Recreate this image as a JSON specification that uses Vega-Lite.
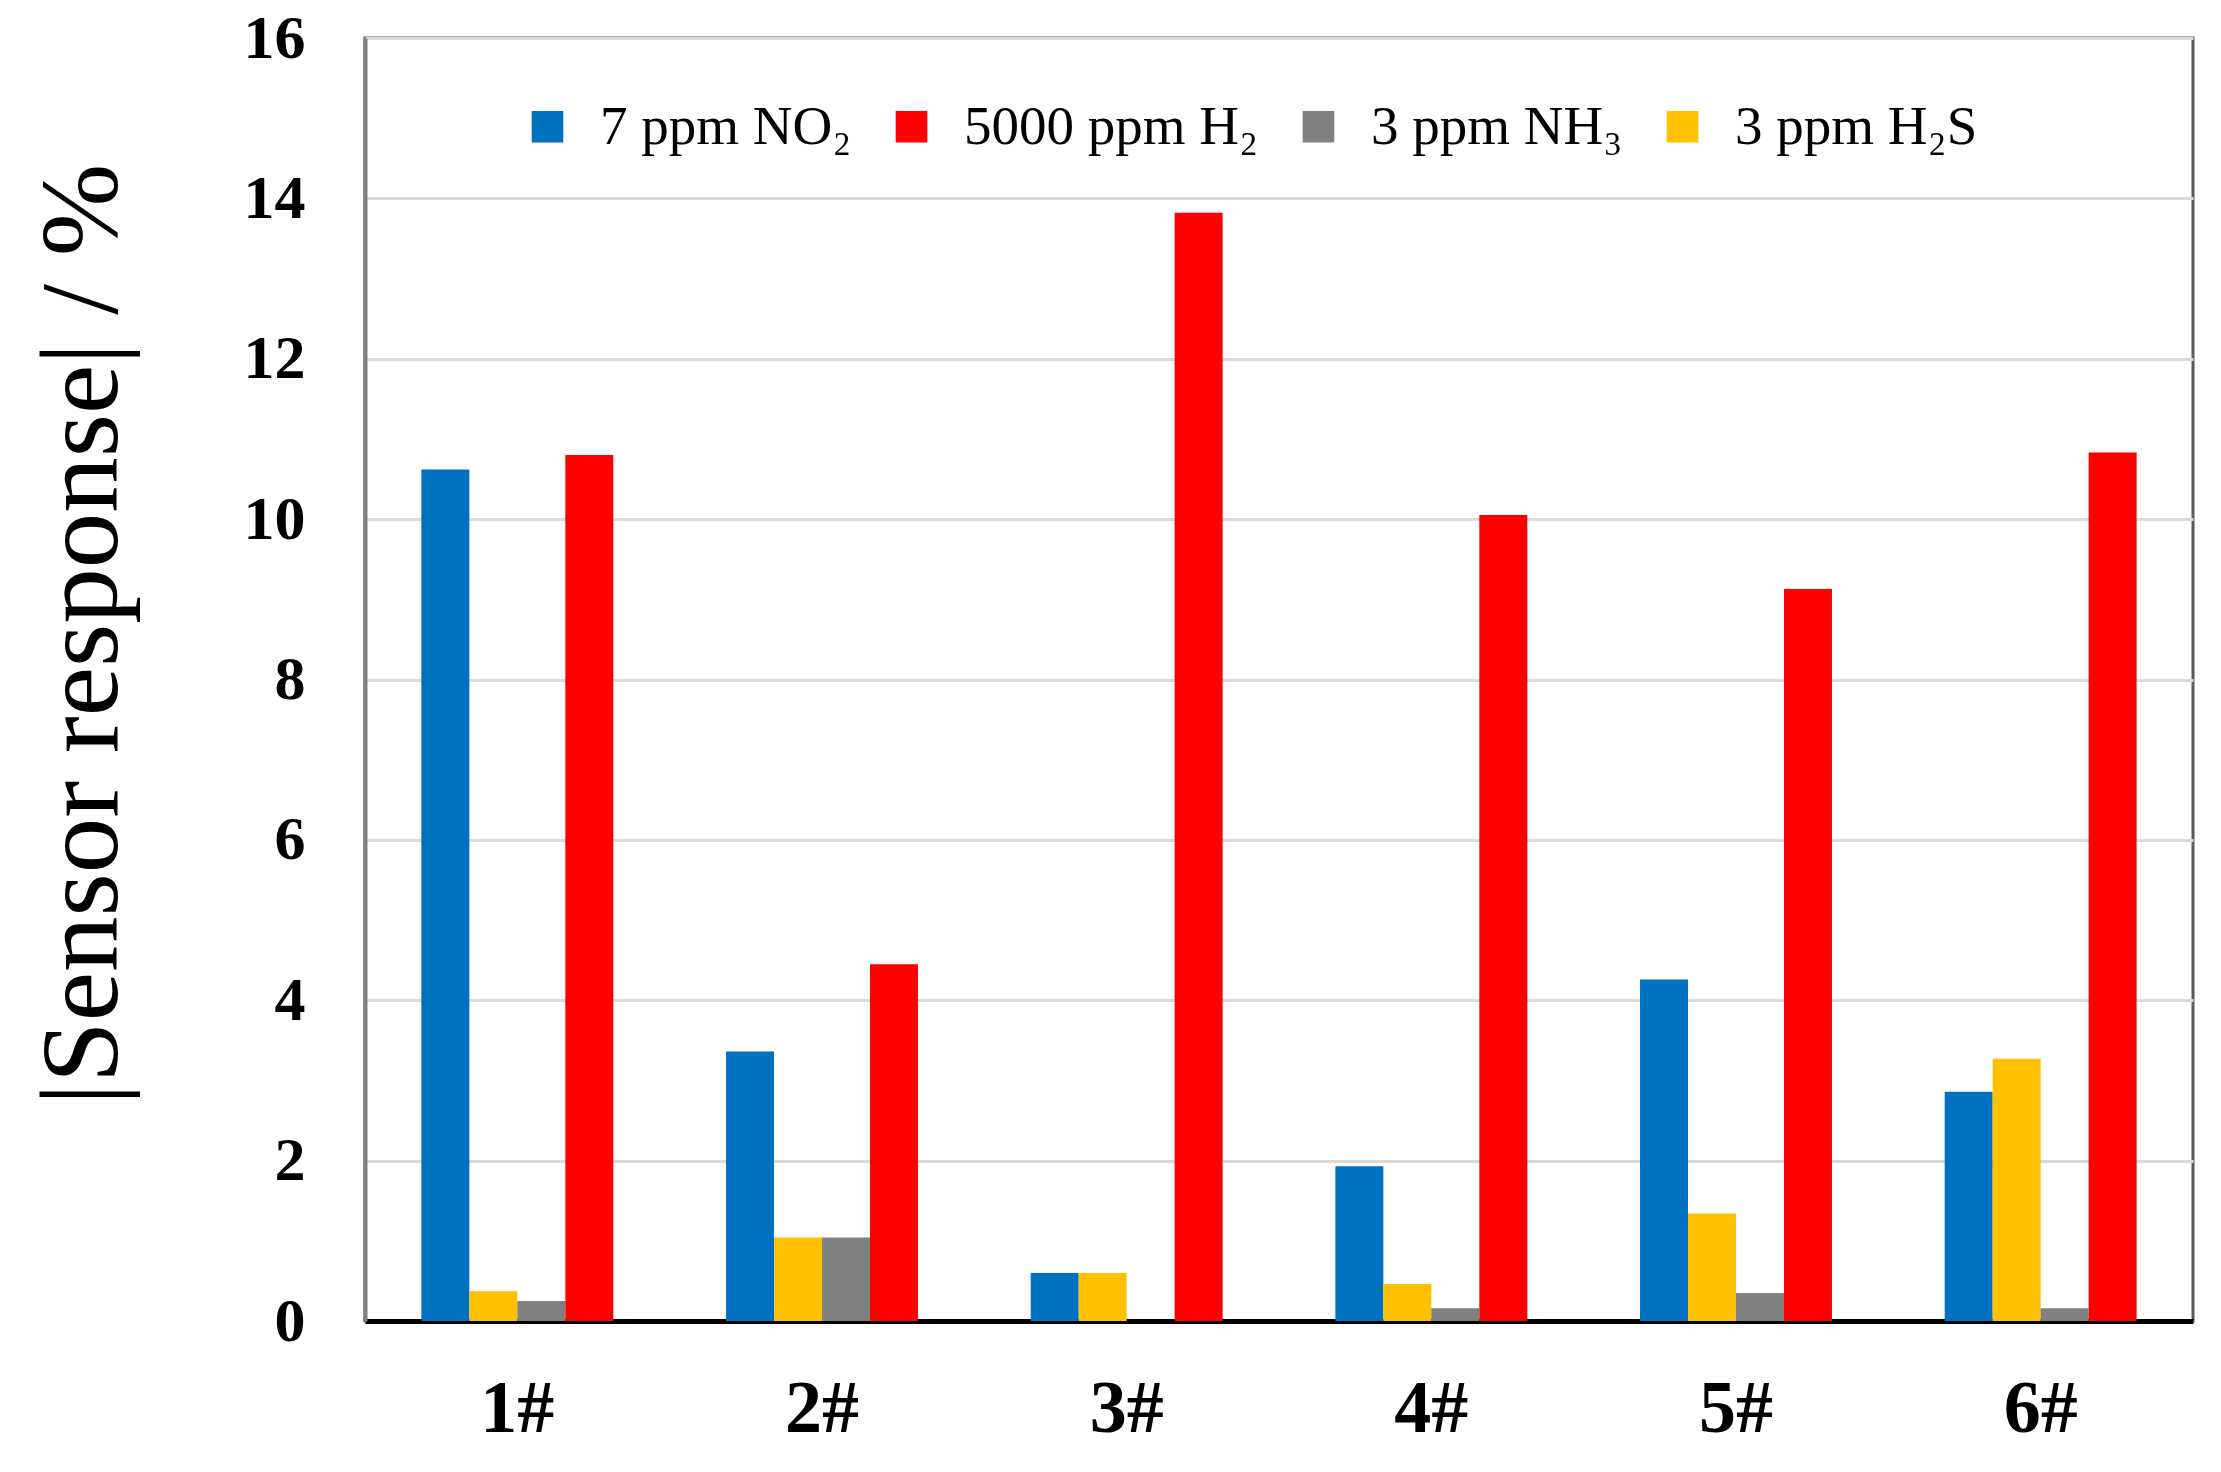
{
  "$schema": "https://vega.github.io/schema/vega-lite/v6.json",
  "autosize": "none",
  "width": 1828,
  "height": 1283,
  "padding": {"left": 365, "top": 38, "right": 28, "bottom": 151},
  "background": "white",
  "config": {
    "view": {"stroke": "#595959", "strokeWidth": 3},
    "font": "Liberation Serif"
  },
  "data": {
    "values": [
      {"sensor": "1#", "gas": "7 ppm NO₂", "ord": 1, "value": 10.62},
      {"sensor": "1#", "gas": "3 ppm H₂S", "ord": 2, "value": 0.37},
      {"sensor": "1#", "gas": "3 ppm NH₃", "ord": 3, "value": 0.25},
      {"sensor": "1#", "gas": "5000 ppm H₂", "ord": 4, "value": 10.8},
      {"sensor": "2#", "gas": "7 ppm NO₂", "ord": 1, "value": 3.36},
      {"sensor": "2#", "gas": "3 ppm H₂S", "ord": 2, "value": 1.04},
      {"sensor": "2#", "gas": "3 ppm NH₃", "ord": 3, "value": 1.04},
      {"sensor": "2#", "gas": "5000 ppm H₂", "ord": 4, "value": 4.45},
      {"sensor": "3#", "gas": "7 ppm NO₂", "ord": 1, "value": 0.6},
      {"sensor": "3#", "gas": "3 ppm H₂S", "ord": 2, "value": 0.6},
      {"sensor": "3#", "gas": "3 ppm NH₃", "ord": 3, "value": 0},
      {"sensor": "3#", "gas": "5000 ppm H₂", "ord": 4, "value": 13.82},
      {"sensor": "4#", "gas": "7 ppm NO₂", "ord": 1, "value": 1.93},
      {"sensor": "4#", "gas": "3 ppm H₂S", "ord": 2, "value": 0.46},
      {"sensor": "4#", "gas": "3 ppm NH₃", "ord": 3, "value": 0.16},
      {"sensor": "4#", "gas": "5000 ppm H₂", "ord": 4, "value": 10.05},
      {"sensor": "5#", "gas": "7 ppm NO₂", "ord": 1, "value": 4.26},
      {"sensor": "5#", "gas": "3 ppm H₂S", "ord": 2, "value": 1.34},
      {"sensor": "5#", "gas": "3 ppm NH₃", "ord": 3, "value": 0.35},
      {"sensor": "5#", "gas": "5000 ppm H₂", "ord": 4, "value": 9.13},
      {"sensor": "6#", "gas": "7 ppm NO₂", "ord": 1, "value": 2.86},
      {"sensor": "6#", "gas": "3 ppm H₂S", "ord": 2, "value": 3.27},
      {"sensor": "6#", "gas": "3 ppm NH₃", "ord": 3, "value": 0.16},
      {"sensor": "6#", "gas": "5000 ppm H₂", "ord": 4, "value": 10.83}
    ]
  },
  "mark": {"type": "bar"},
  "encoding": {
    "x": {
      "field": "sensor",
      "type": "nominal",
      "sort": ["1#", "2#", "3#", "4#", "5#", "6#"],
      "scale": {"paddingInner": 0.37, "paddingOuter": 0.185},
      "axis": {
        "title": null,
        "labelAngle": 0,
        "labelFont": "Liberation Serif",
        "labelFontSize": 74,
        "labelFontWeight": "bold",
        "labelColor": "black",
        "labelPadding": 52,
        "ticks": false,
        "domainColor": "black",
        "domainWidth": 5,
        "grid": false
      }
    },
    "xOffset": {
      "field": "ord",
      "type": "ordinal",
      "scale": {"domain": [1, 2, 3, 4], "paddingInner": 0, "paddingOuter": 0}
    },
    "y": {
      "field": "value",
      "type": "quantitative",
      "scale": {"domain": [0, 16], "nice": false},
      "axis": {
        "title": "|Sensor response| / %",
        "titleFont": "Liberation Serif",
        "titleFontSize": 111,
        "titleFontWeight": "normal",
        "titleColor": "black",
        "titleAngle": -90,
        "titleX": -282,
        "titleY": 596,
        "titleAlign": "center",
        "titleBaseline": "middle",
        "values": [0, 2, 4, 6, 8, 10, 12, 14, 16],
        "labelFont": "Liberation Serif",
        "labelFontSize": 62,
        "labelFontWeight": "bold",
        "labelColor": "black",
        "labelPadding": 60,
        "ticks": false,
        "domainColor": "#7f7f7f",
        "domainWidth": 4,
        "gridColor": "#d9d9d9",
        "gridWidth": 3
      }
    },
    "color": {
      "field": "gas",
      "type": "nominal",
      "scale": {
        "domain": ["7 ppm NO₂", "5000 ppm H₂", "3 ppm NH₃", "3 ppm H₂S"],
        "range": ["#0070C0", "#FF0000", "#808080", "#FFC000"]
      },
      "legend": {
        "title": null,
        "orient": "none",
        "direction": "horizontal",
        "legendX": 155,
        "legendY": 61,
        "symbolType": "square",
        "symbolSize": 1000,
        "symbolStrokeWidth": 0,
        "labelFont": "Liberation Serif",
        "labelFontSize": 55,
        "labelColor": "black",
        "labelOffset": 25,
        "columnPadding": 32,
        "labelLimit": 0
      }
    }
  }
}
